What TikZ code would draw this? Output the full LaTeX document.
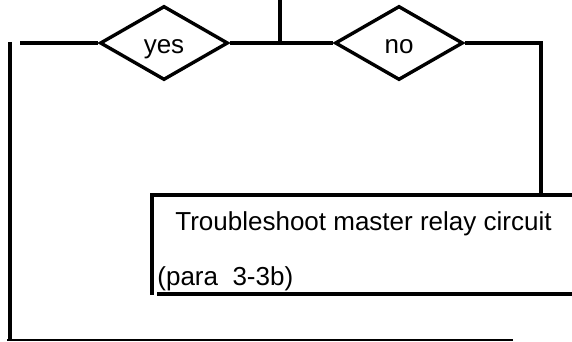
\documentclass[tikz,border=0pt]{standalone}
\usepackage{fontspec}
\setmainfont{Liberation Sans}
\usetikzlibrary{shapes.geometric}
\begin{document}
\begin{tikzpicture}[x=0.5pt,y=-0.5pt,
  flow/.style={line width=1.7pt},
  boxline/.style={line width=2pt},
  baseline/.style={line width=1pt},
  decision/.style={shape=diamond, draw, line width=1.7pt, inner sep=0pt,
    minimum width=64pt, minimum height=37pt, text height=10.2pt, text depth=0pt,
    font=\fontsize{13}{15}\selectfont},
  boxtext/.style={anchor=base west, inner sep=0pt, font=\fontsize{13}{15}\selectfont}]
\useasboundingbox (0,0) rectangle (572,342);
% decisions
\node[decision] (yes) at (164,43) {yes};
\node[decision] (no) at (399,43) {no};
% coordinates
\coordinate (top) at (280,0);
\coordinate (join) at (280,43);
\coordinate (lstart) at (20,43);
\coordinate (vtop) at (10,42);
\coordinate (vbot) at (10,341);
\coordinate (ncorner) at (541,43);
\coordinate (boxtop) at (541,195);
\coordinate (btl) at (152,195);
\coordinate (btr) at (572,195);
\coordinate (bbl) at (152,295);
\coordinate (bbs) at (157,294);
\coordinate (bbr) at (572,294);
\coordinate (fl) at (7,340);
\coordinate (fr) at (513,340);
% connectors
\draw[flow] (top) -- (join);
\draw[flow] (lstart) -- (yes.west);
\draw[flow] (yes.east) -- (no.west);
\draw[flow] (no.east) -- (ncorner) -- (boxtop);
\draw[flow] (vtop) -- (vbot);
% box (open on the right)
\draw[boxline] (btr) -- (btl) -- (bbl);
\draw[boxline] (bbs) -- (bbr);
\node[boxtext] (t1) at (175,230) {Troubleshoot master relay circuit};
\node[boxtext] (t2) at (157,285) {(para\ \ 3-3b)};
% bottom line
\draw[baseline] (fl) -- (fr);
\end{tikzpicture}
\end{document}
